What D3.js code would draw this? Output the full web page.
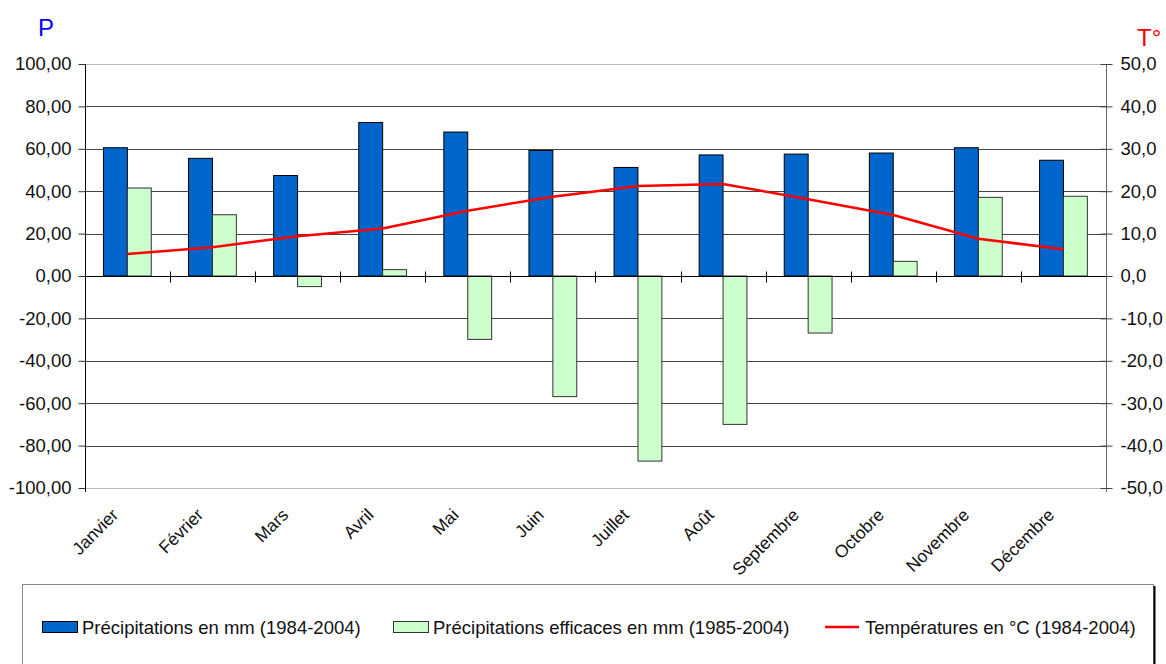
<!DOCTYPE html>
<html>
<head>
<meta charset="utf-8">
<script src="https://cdn.jsdelivr.net/npm/d3@7"></script>
<style>
  body { margin: 0; background: #fff; }
  text { font-family: "Liberation Sans", Arial, sans-serif; fill: #111; }
</style>
</head>
<body>
<script>
// months and series
var months = ["Janvier", "Février", "Mars", "Avril", "Mai", "Juin", "Juillet", "Août", "Septembre", "Octobre", "Novembre", "Décembre"];
var precip = [60.5, 55.5, 47.4, 72.4, 67.9, 59.2, 51.2, 57.1, 57.5, 58.0, 60.5, 54.6];
var precipEff = [41.5, 28.9, -5.0, 3.0, -29.9, -56.9, -87.3, -70.0, -26.9, 6.9, 37.1, 37.6];
var temps = [5.2, 6.8, 9.4, 11.2, 15.4, 18.7, 21.2, 21.7, 18.1, 14.4, 8.8, 6.3];

var pTicks = [100, 80, 60, 40, 20, 0, -20, -40, -60, -80, -100];
var tTicks = [50, 40, 30, 20, 10, 0, -10, -20, -30, -40, -50];

var legendItems = [
    { label: "Précipitations en mm (1984-2004)", type: "bar", color: "#0066cc", stroke: "#000" },
    { label: "Précipitations efficaces en mm (1985-2004)", type: "bar", color: "#ccffcc", stroke: "#333" },
    { label: "Températures en °C (1984-2004)", type: "line", color: "#ff0000" }
];

var width = 1166, height = 664;
var plotLeft = 84.8, plotRight = 1106, plotTop = 64, plotBottom = 488;

const svg = d3.select("body").append("svg")
    .attr("width", width)
    .attr("height", height);

var x = d3.scaleBand().domain(months).range([plotLeft, plotRight]);
var sub = d3.scaleBand().domain(["p", "e"]).range([0, x.bandwidth()]).paddingOuter(0.78);
var yP = d3.scaleLinear().domain([-100, 100]).range([plotBottom, plotTop]);
var yT = d3.scaleLinear().domain([-50, 50]).range([plotBottom, plotTop]);

var fmt2 = v => d3.format(".2f")(v).replace(".", ",").replace("−", "-");
var fmt1 = v => d3.format(".1f")(v).replace(".", ",").replace("−", "-");

// gridlines
svg.append("g")
    .selectAll("line")
    .data(pTicks)
    .enter()
    .append("line")
    .attr("x1", plotLeft)
    .attr("x2", plotRight)
    .attr("y1", d => Math.round(yP(d)) + 0.5)
    .attr("y2", d => Math.round(yP(d)) + 0.5)
    .attr("stroke", d => Math.abs(d) == 100 ? "#bbb" : "#444")
    .attr("stroke-width", 1);

// left axis
var leftAxis = svg.append("g")
    .attr("transform", `translate(${Math.round(plotLeft) + 0.5},0)`)
    .call(d3.axisLeft(yP).tickValues(pTicks).tickFormat(fmt2).tickSize(7).tickPadding(7));
leftAxis.select(".domain").attr("d", `M0,${plotTop}V${plotBottom + 4}`).attr("stroke", "#000");
leftAxis.selectAll(".tick line").attr("stroke", "#333");
leftAxis.selectAll("text").attr("font-size", 18.5).attr("fill", "#111");

// right axis
var rightAxis = svg.append("g")
    .attr("transform", `translate(${Math.round(plotRight) + 0.5},0)`)
    .call(d3.axisRight(yT).tickValues(tTicks).tickFormat(fmt1).tickSize(6).tickPadding(8));
rightAxis.select(".domain").attr("d", `M0,${plotTop}V${plotBottom + 4}`).attr("stroke", "#666");
rightAxis.selectAll(".tick line").attr("x1", -6).attr("stroke", "#444");
rightAxis.selectAll("text").attr("font-size", 18.5).attr("fill", "#111");

// bars
var groups = svg.append("g")
    .selectAll("g")
    .data(months)
    .enter()
    .append("g")
    .attr("transform", d => `translate(${x(d)},0)`);

groups.append("rect")
    .attr("x", sub("p"))
    .attr("width", sub.bandwidth())
    .attr("y", (d, i) => yP(Math.max(0, precip[i])))
    .attr("height", (d, i) => Math.abs(yP(precip[i]) - yP(0)))
    .attr("fill", "#0066cc")
    .attr("stroke", "#000")
    .attr("stroke-width", 1);

groups.append("rect")
    .attr("x", sub("e"))
    .attr("width", sub.bandwidth())
    .attr("y", (d, i) => yP(Math.max(0, precipEff[i])))
    .attr("height", (d, i) => Math.abs(yP(precipEff[i]) - yP(0)))
    .attr("fill", "#ccffcc")
    .attr("stroke", "#333")
    .attr("stroke-width", 1);

// zero axis with category ticks
var zeroY = Math.round(yP(0)) + 0.5;
svg.append("line")
    .attr("x1", plotLeft).attr("x2", plotRight)
    .attr("y1", zeroY).attr("y2", zeroY)
    .attr("stroke", "#000");
svg.append("g")
    .selectAll("line")
    .data(months.slice(1))
    .enter()
    .append("line")
    .attr("x1", d => Math.round(x(d)) + 0.5)
    .attr("x2", d => Math.round(x(d)) + 0.5)
    .attr("y1", zeroY - 5)
    .attr("y2", zeroY + 6)
    .attr("stroke", "#000");

// temperature line
var line = d3.line()
    .x((d, i) => x(months[i]) + x.bandwidth() / 2)
    .y(d => yT(d));
svg.append("path")
    .datum(temps)
    .attr("d", line)
    .attr("fill", "none")
    .attr("stroke", "#ff0000")
    .attr("stroke-width", 2.5);

// month labels
svg.append("g")
    .selectAll("text")
    .data(months)
    .enter()
    .append("text")
    .attr("transform", d => `translate(${x(d) + x.bandwidth() / 2 - 8},${plotBottom + 28}) rotate(-45)`)
    .attr("text-anchor", "end")
    .attr("font-size", 17.5)
    .text(d => d);

// axis titles
svg.append("text")
    .attr("x", 38).attr("y", 36)
    .attr("font-size", 24)
    .style("fill", "#0000ff")
    .text("P");
svg.append("text")
    .attr("x", 1137).attr("y", 46)
    .attr("font-size", 24)
    .style("fill", "#ff0000")
    .text("T°");

// legend
var lg = svg.append("g");
lg.append("rect")
    .attr("x", 22.5).attr("y", 584.5)
    .attr("width", 1131).attr("height", 90)
    .attr("fill", "#fff")
    .attr("stroke", "#888");
lg.append("line")
    .attr("x1", 1154.5).attr("x2", 1154.5)
    .attr("y1", 586).attr("y2", 664)
    .attr("stroke", "#000").attr("stroke-width", 2);

var legendX = [42, 393, 825];
var li = lg.selectAll("g.item")
    .data(legendItems)
    .enter()
    .append("g")
    .attr("class", "item")
    .attr("transform", (d, i) => `translate(${legendX[i]},627)`);

li.filter(d => d.type == "bar")
    .append("rect")
    .attr("x", 0.5).attr("y", -5.5)
    .attr("width", 35).attr("height", 11)
    .attr("fill", d => d.color)
    .attr("stroke", d => d.stroke);
li.filter(d => d.type == "line")
    .append("line")
    .attr("x1", 0).attr("x2", 34)
    .attr("y1", 0).attr("y2", 0)
    .attr("stroke", d => d.color)
    .attr("stroke-width", 2.5);
li.append("text")
    .attr("x", 40)
    .attr("y", 6.5)
    .attr("font-size", 18.5)
    .text(d => d.label);
</script>
</body>
</html>
